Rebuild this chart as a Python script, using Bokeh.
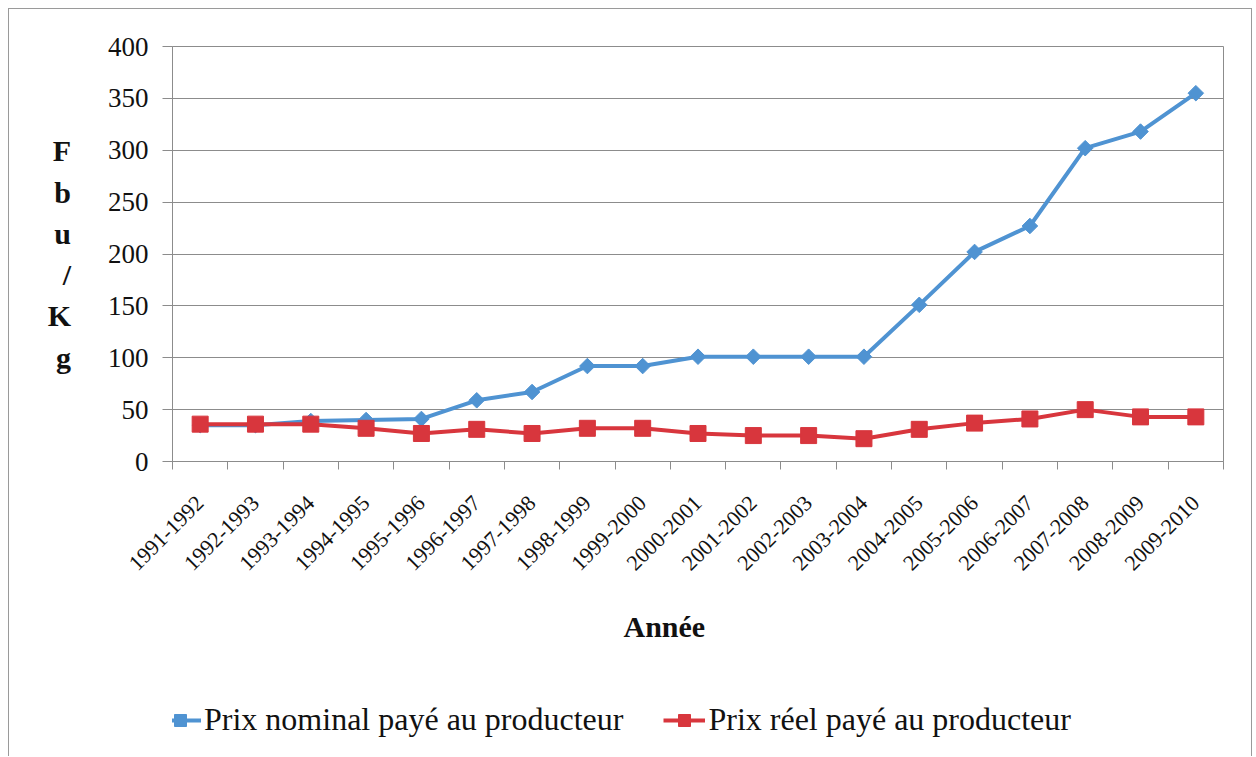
import math
from bokeh.plotting import figure
from bokeh.layouts import column
from bokeh.models import Range1d, FixedTicker, Legend, LegendItem, Title
from bokeh.embed import file_html
from bokeh.resources import INLINE

# ---- data ----
years = ["1991-1992", "1992-1993", "1993-1994", "1994-1995", "1995-1996",
         "1996-1997", "1997-1998", "1998-1999", "1999-2000", "2000-2001",
         "2001-2002", "2002-2003", "2003-2004", "2004-2005", "2005-2006",
         "2006-2007", "2007-2008", "2008-2009", "2009-2010"]
nominal = [35, 35, 39, 40, 41, 59, 67, 92, 92, 101, 101, 101, 101,
           151, 202, 227, 302, 318, 355]
reel = [36, 36, 36, 32, 27, 31, 27, 32, 32, 27, 25, 25, 22,
        31, 37, 41, 50, 43, 43]
y_ticks = [0, 50, 100, 150, 200, 250, 300, 350, 400]
y_title = "F\nb\nu\n/\nK\ng"
label_nominal = "Prix nominal payé au producteur"
label_reel = "Prix réel payé au producteur"
x_title = "Année"

BLUE = "#4f93d2"
RED = "#d8363d"
GRAY = "#8c8c8c"
TXT = "#111111"
FONT = "Liberation Serif"
BORDER = "1px solid #9a9a9a"

xs = list(range(1, len(years) + 1))
bounds = [i + 0.5 for i in range(0, len(years) + 1)]

p = figure(width=1244, height=690,
           x_range=Range1d(0.5, len(years) + 0.5), y_range=Range1d(0, 400),
           output_backend="svg", toolbar_location=None,
           min_border_left=163, min_border_right=30,
           min_border_top=37, min_border_bottom=238)
p.styles = {"border-left": BORDER, "border-right": BORDER, "border-top": BORDER}
p.background_fill_color = "white"
p.border_fill_color = "white"
p.outline_line_color = GRAY

# grid
p.xgrid.visible = False
p.ygrid.ticker = FixedTicker(ticks=y_ticks)
p.ygrid.grid_line_color = GRAY
p.ygrid.grid_line_width = 1

# y axis
ya = p.yaxis[0]
ya.ticker = FixedTicker(ticks=y_ticks)
ya.axis_line_color = GRAY
ya.major_tick_line_color = GRAY
ya.major_tick_out = 10
ya.major_tick_in = 0
ya.minor_tick_line_color = None
ya.major_label_standoff = 14
ya.major_label_text_font = FONT
ya.major_label_text_font_size = "27px"
ya.major_label_text_color = TXT
ya.axis_label = y_title
ya.axis_label_orientation = "horizontal"
ya.axis_label_standoff = 34
ya.axis_label_text_font = FONT
ya.axis_label_text_font_size = "30px"
ya.axis_label_text_font_style = "bold"
ya.axis_label_text_color = TXT
ya.axis_label_text_line_height = 1.25

# x axis
xa = p.xaxis[0]
xa.ticker = FixedTicker(ticks=xs, minor_ticks=bounds)
xa.major_label_overrides = {x: y for x, y in zip(xs, years)}
xa.axis_line_color = GRAY
xa.major_tick_line_color = None
xa.major_tick_out = 0
xa.major_tick_in = 0
xa.minor_tick_line_color = GRAY
xa.minor_tick_out = 8
xa.minor_tick_in = 0
xa.major_label_orientation = math.pi / 4
xa.major_label_standoff = 30
xa.major_label_text_font = FONT
xa.major_label_text_font_size = "22px"
xa.major_label_text_color = TXT

# series
line_kw_n = dict(line_color=BLUE, line_width=4)
mark_kw_n = dict(marker="square", angle=math.pi / 4, size=11,
                 fill_color=BLUE, line_color=BLUE)
line_kw_r = dict(line_color=RED, line_width=4)
mark_kw_r = dict(marker="square", size=16, fill_color=RED, line_color=RED)

p.line(xs, nominal, **line_kw_n)
p.scatter(xs, nominal, **mark_kw_n)
p.line(xs, reel, **line_kw_r)
p.scatter(xs, reel, **mark_kw_r)

# small blank spacer panel, then the x title below the axis
p.add_layout(Title(text=" ", text_font=FONT, text_font_size="10px"), "below")
p.add_layout(Title(text=x_title, align="left", offset=451,
                   text_font=FONT, text_font_size="30px",
                   text_font_style="bold", text_color=TXT), "below")

# ---- legend strip: a second figure whose series lie outside its view ----
q = figure(width=1244, height=58, x_range=Range1d(0.5, len(years) + 0.5),
           y_range=Range1d(-1000, -900),
           output_backend="svg", toolbar_location=None,
           x_axis_location=None, y_axis_location=None,
           min_border_left=0, min_border_right=0,
           min_border_top=0, min_border_bottom=0)
q.styles = {"border-left": BORDER, "border-right": BORDER}
q.grid.visible = False
q.outline_line_color = None
q.background_fill_color = "white"
q.border_fill_color = "white"
ln = q.line(xs, nominal, **line_kw_n)
mn = q.scatter(xs, nominal, **mark_kw_n)
lr = q.line(xs, reel, **line_kw_r)
mr = q.scatter(xs, reel, **mark_kw_r)

legend = Legend(items=[LegendItem(label=label_nominal, renderers=[ln, mn]),
                       LegendItem(label=label_reel, renderers=[lr, mr])],
                orientation="horizontal", location=(-13, 18),
                label_text_font=FONT, label_text_font_size="32px",
                label_text_color=TXT,
                glyph_width=42, glyph_height=30, label_standoff=3,
                spacing=40, padding=0, margin=0,
                border_line_color=None, background_fill_alpha=0)
q.add_layout(legend)

page = column(p, q, spacing=0)
page.styles = {"margin-left": "8px", "margin-top": "8px"}
open("out.html", "w").write(file_html(page, INLINE))
